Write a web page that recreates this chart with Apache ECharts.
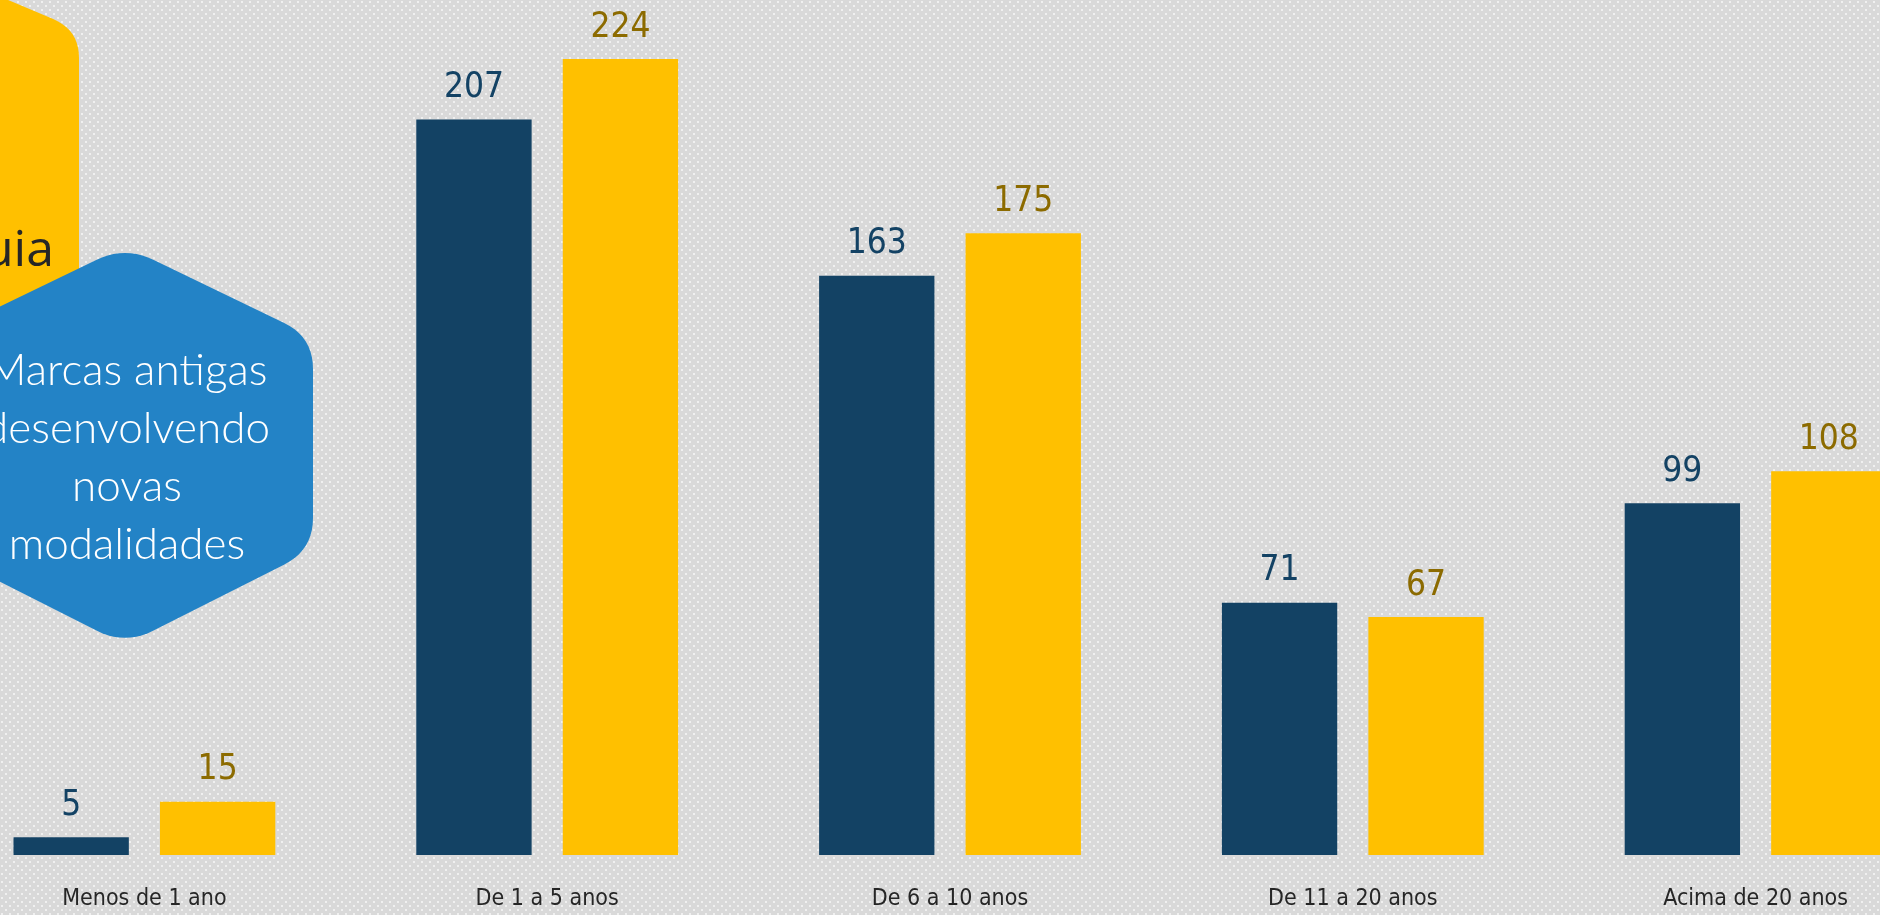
<!DOCTYPE html>
<html>
<head>
<meta charset="utf-8">
<script src="https://cdn.jsdelivr.net/npm/echarts@6/dist/echarts.min.js"></script>
<style>
  html, body { margin: 0; padding: 0; background: #d9d9d9; }
  #chart { width: 1880px; height: 915px; }
</style>
</head>
<body>
<div id="chart"></div>
<script>
var categorias = ['Menos de 1 ano', 'De 1 a 5 anos', 'De 6 a 10 anos', 'De 11 a 20 anos', 'Acima de 20 anos'];
var serieAzul = [5, 207, 163, 71, 99];
var serieAmarela = [15, 224, 175, 67, 108];

var narrow = '"Liberation Sans Narrow", "DejaVu Sans Condensed", "Roboto", sans-serif';

// fundo cinza com pontinhos
var tile = document.createElement('canvas');
tile.width = 8;
tile.height = 8;
var ctx = tile.getContext('2d');
ctx.fillStyle = '#d9d9d9';
ctx.fillRect(0, 0, 8, 8);
ctx.fillStyle = '#f0f0f0';
ctx.fillRect(1, 1, 2, 2);
ctx.fillRect(5, 5, 2, 2);

// hexagono com cantos arredondados (decoracao), pontos amostrados nas curvas
function hexPoints(pts, r) {
    var out = [];
    var n = pts.length;
    for (var i = 0; i < n; i++) {
        var p = pts[i], a = pts[(i + n - 1) % n], b = pts[(i + 1) % n];
        var la = Math.hypot(a[0] - p[0], a[1] - p[1]);
        var lb = Math.hypot(b[0] - p[0], b[1] - p[1]);
        var p1 = [p[0] + (a[0] - p[0]) * r / la, p[1] + (a[1] - p[1]) * r / la];
        var p2 = [p[0] + (b[0] - p[0]) * r / lb, p[1] + (b[1] - p[1]) * r / lb];
        for (var k = 0; k <= 10; k++) {
            var t = k / 10, u = 1 - t;
            out.push([
                u * u * p1[0] + 2 * u * t * p[0] + t * t * p2[0],
                u * u * p1[1] + 2 * u * t * p[1] + t * t * p2[1]
            ]);
        }
    }
    return out;
}

var chart = echarts.init(document.getElementById('chart'));

var option = {
    backgroundColor: 'transparent',
    animation: false,
    grid: { left: -57, right: -77, top: 59, bottom: 60, outerBoundsMode: 'none', containLabel: false },
    xAxis: {
        type: 'category',
        data: categorias,
        axisLine: { show: false },
        axisTick: { show: false },
        axisLabel: {
            margin: 33,
            fontFamily: narrow,
            fontSize: 23,
            color: '#262626'
        }
    },
    yAxis: {
        type: 'value',
        min: 0,
        max: 'dataMax',
        show: false,
        splitLine: { show: false }
    },
    series: [{
        name: 'azul',
        type: 'bar',
        data: serieAzul,
        barGap: '27%',
        barCategoryGap: '35%',
        itemStyle: { color: '#134264' },
        label: {
            show: true,
            position: 'top',
            distance: 14,
            fontFamily: narrow,
            fontSize: 35,
            color: '#134264'
        }
    }, {
        name: 'amarela',
        type: 'bar',
        data: serieAmarela,
        itemStyle: { color: '#ffc000' },
        label: {
            show: true,
            position: 'top',
            distance: 14,
            fontFamily: narrow,
            fontSize: 35,
            color: '#8c6b00'
        }
    }],
    graphic: [{
        type: 'rect',
        shape: { x: 0, y: 0, width: 1880, height: 915 },
        style: { fill: { image: tile, repeat: 'repeat' } },
        z: -10,
        silent: true
    }, {
        type: 'polygon',
        shape: { points: hexPoints([[-110, -50], [79, 30], [79, 300], [-110, 380], [-299, 300], [-299, 30]], 28) },
        style: { fill: '#ffc000' },
        z: 10
    }, {
        type: 'text',
        x: 54,
        y: 252,
        style: {
            text: 'Guia',
            align: 'right',
            verticalAlign: 'middle',
            fontFamily: '"Open Sans", sans-serif',
            fontSize: 50,
            fill: '#262626'
        },
        z: 11
    }, {
        type: 'polygon',
        shape: { points: hexPoints([[125, 246], [313, 337], [313, 550], [125, 645], [-63, 550], [-63, 337]], 32) },
        style: { fill: '#2383c6' },
        z: 12
    }, {
        type: 'text',
        x: 127,
        y: 458,
        style: {
            text: 'Marcas antigas\ndesenvolvendo\nnovas\nmodalidades',
            align: 'center',
            verticalAlign: 'middle',
            fontFamily: 'Lato, sans-serif',
            fontWeight: 300,
            fontSize: 44,
            lineHeight: 58,
            fill: '#ffffff'
        },
        z: 13
    }]
};

chart.setOption(option);
</script>
</body>
</html>
